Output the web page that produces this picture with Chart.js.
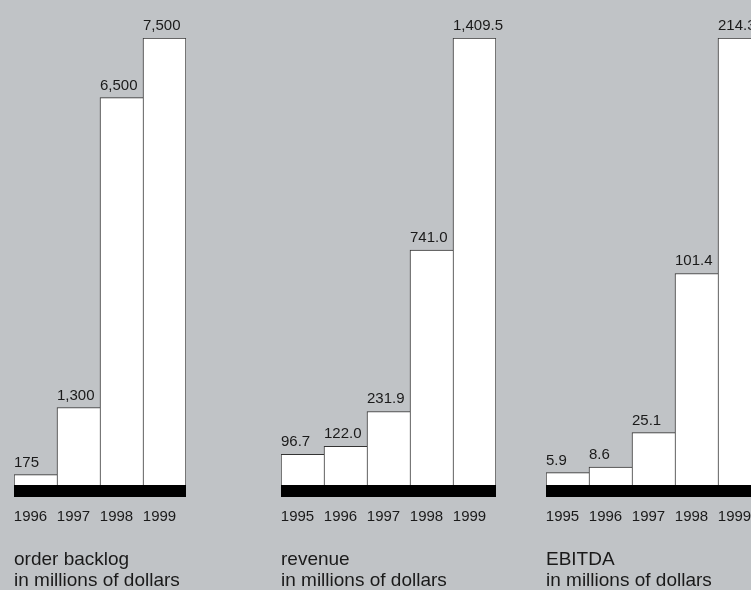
<!DOCTYPE html>
<html>
<head>
<meta charset="utf-8">
<script src="https://cdn.jsdelivr.net/npm/chart.js@4.4.1/dist/chart.umd.min.js"></script>
<style>
    html, body {
        margin: 0;
        padding: 0;
        width: 751px;
        height: 590px;
        overflow: hidden;
        background: #c0c3c6;
    }
    canvas {
        position: absolute;
        top: 0;
    }
</style>
</head>
<body>
<canvas id="backlogChart" width="192" height="600" style="left:14px"></canvas>
<canvas id="revenueChart" width="235" height="600" style="left:281px"></canvas>
<canvas id="ebitdaChart" width="235" height="600" style="left:546px"></canvas>

<script>
// Data
const backlogYears = ['1996', '1997', '1998', '1999'];
const backlogValues = [175, 1300, 6500, 7500];

const revenueYears = ['1995', '1996', '1997', '1998', '1999'];
const revenueValues = [96.7, 122.0, 231.9, 741.0, 1409.5];

const ebitdaYears = ['1995', '1996', '1997', '1998', '1999'];
const ebitdaValues = [5.9, 8.6, 25.1, 101.4, 214.3];

const fmtInt = v => v.toLocaleString('en-US');
const fmtOne = v => v.toLocaleString('en-US', { minimumFractionDigits: 1, maximumFractionDigits: 1 });

Chart.defaults.font.family = "'Liberation Sans', Arial, Helvetica, sans-serif";
Chart.defaults.font.size = 15;
Chart.defaults.color = '#1a1a1a';

// black base band + value labels above bars
const barExtras = {
    id: 'barExtras',
    beforeDatasetsDraw(chart) {
        const { ctx, chartArea } = chart;
        const y0 = chart.scales.y.getPixelForValue(0);
        ctx.save();
        ctx.fillStyle = '#000';
        ctx.fillRect(chartArea.left, y0, chartArea.right - chartArea.left, 12);
        ctx.restore();
    },
    afterDatasetsDraw(chart, args, opts) {
        const { ctx } = chart;
        const meta = chart.getDatasetMeta(0);
        const values = chart.data.datasets[0].data;
        ctx.save();
        ctx.font = "15px 'Liberation Sans', Arial, Helvetica, sans-serif";
        ctx.fillStyle = '#1a1a1a';
        ctx.textAlign = 'left';
        ctx.textBaseline = 'alphabetic';
        meta.data.forEach((bar, i) => {
            ctx.fillText(opts.format(values[i]), bar.x - bar.width / 2, bar.y - 8);
        });
        ctx.restore();
    }
};

const makeChart = (id, years, values, caption, format) => {
    const last = values.length - 1;
    return new Chart(document.getElementById(id), {
        type: 'bar',
        data: {
            labels: years,
            datasets: [{
                data: values,
                backgroundColor: '#ffffff',
                borderColor: '#333333',
                borderWidth: ctx => ctx.dataIndex === last
                    ? { top: 1, left: 1, right: 1, bottom: 0 }
                    : { top: 1, left: 1, right: 0, bottom: 0 },
                borderSkipped: false,
                barPercentage: 1,
                categoryPercentage: 1
            }]
        },
        options: {
            responsive: false,
            animation: false,
            // right padding leaves room for the top label of the last bar
            layout: { padding: { top: 38, left: 0, right: 20, bottom: 0 } },
            plugins: {
                legend: { display: false },
                tooltip: { enabled: false },
                barExtras: { format }
            },
            scales: {
                y: {
                    display: false,
                    min: 0,
                    max: Math.max(...values)
                },
                x: {
                    // tick marks are hidden, their length only pushes the labels down
                    grid: { display: false, drawTicks: true, tickLength: 23 },
                    border: { display: false },
                    ticks: {
                        autoSkip: false,
                        maxRotation: 0,
                        labelOffset: -5,
                        padding: 0,
                        color: '#1a1a1a',
                        font: { size: 15 }
                    },
                    title: {
                        display: true,
                        text: caption,
                        align: 'start',
                        color: '#1a1a1a',
                        font: { size: 19, lineHeight: 21 / 19 },
                        padding: { top: 23.5, bottom: 8.5 }
                    }
                }
            }
        },
        plugins: [barExtras]
    });
};

makeChart('backlogChart', backlogYears, backlogValues, ['order backlog', 'in millions of dollars'], fmtInt);
makeChart('revenueChart', revenueYears, revenueValues, ['revenue', 'in millions of dollars'], fmtOne);
makeChart('ebitdaChart', ebitdaYears, ebitdaValues, ['EBITDA', 'in millions of dollars'], fmtOne);
</script>
</body>
</html>
